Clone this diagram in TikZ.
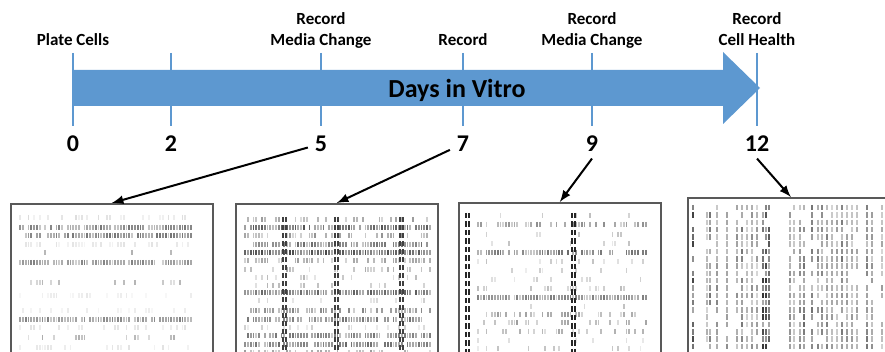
\documentclass[tikz,border=0pt]{standalone}
\usepackage{fontspec}
\setmainfont{Carlito}
\definecolor{dayblue}{RGB}{93,152,208}
% one row of a raster: y, first x, number of slots, density, darkness
\newcommand{\spikerow}[5]{%
  \foreach \i in {0,...,#3}{%
    \pgfmathsetmacro{\spkx}{#2+2.8*\i}%
    \pgfmathsetmacro{\spkp}{rnd}%
    \ifdim\spkp pt<#4pt
      \pgfmathsetmacro{\spkg}{int(#5*(0.35+0.65*rnd))}%
      \draw[black!\spkg,line width=0.9pt] (\spkx,#1) -- ++(0,5.5);
    \fi}}
\begin{document}
\begin{tikzpicture}[>=latex,x=0.5pt,y=-0.5pt,
  lbl/.style={font=\bfseries\fontsize{8.5}{10.4}\selectfont,align=center,anchor=south,inner sep=0pt,text depth=0pt},
  num/.style={font=\bfseries\fontsize{12}{14}\selectfont,anchor=base},
  daytick/.style={dayblue,line width=1.3pt},
  panel/.style={draw=black!65,line width=0.8pt,anchor=north west,minimum width=101pt,minimum height=80pt,inner sep=0pt},
  pointer/.style={->,line width=1pt}]
\useasboundingbox (0,0) rectangle (885,352);
\clip (0,0) rectangle (885,352);
\pgfmathsetseed{12}
% time line
\fill[dayblue] (73,70) -- (723,70) -- (723,52) -- (760,88) -- (723,124) -- (723,106) -- (73,106) -- cycle;
\foreach \d/\x in {0/73,2/171,5/321,7/463,9/592,12/757}{
  \draw[daytick] (\x,53) -- (\x,126);
  \node[num] (n\d) at (\x,151.5) {\d};
}
\fill[dayblue] (380,72) rectangle (535,104);
\node[font=\bfseries\fontsize{13}{15}\selectfont,anchor=base] (div) at (457,98) {Days in Vitro};
\node[lbl] (l0) at (73,46) {Plate Cells};
\node[lbl] (l5) at (321,46) {Record\\Media Change};
\node[lbl] (l7) at (463,46) {Record};
\node[lbl] (l9) at (592,46) {Record\\Media Change};
\node[lbl] (l12) at (757,46) {Record\\Cell Health};
% rasters
\foreach \y/\dens/\dark in {215/0.5/15,225/0.9/55,233/0.8/55,242/0.4/12,250/0.05/40,260/0.9/50,280/0.2/30,
  293/0.3/10,308/0.3/10,317/0.9/50,325/0.3/12,335/0.2/35,345/0.3/12}
  {\spikerow{\y}{20}{61}{\dens}{\dark}}
\foreach \y/\dens/\dark in {217/0.3/40,225/0.95/70,233/0.5/45,242/0.85/60,250/1/75,258/0.5/40,267/0.3/35,
  275/0.15/30,283/0.15/30,290/0.95/65,298/0.2/20,308/0.7/50,317/0.8/55,325/0.2/20,333/0.8/55,342/0.9/60,350/0.5/40}
  {\spikerow{\y}{245}{66}{\dens}{\dark}}
\foreach \c in {283,286,335,338,400,403}
  \foreach \y in {217,225,...,350}
    \draw[black!75,line width=0.9pt] (\c,\y) -- ++(0,5.5);
\foreach \y/\dens/\dark in {213/0.15/35,222/0.6/45,232/0.15/25,241/0.15/25,250/0.8/60,259/0.3/25,268/0.1/20,
  277/0.1/20,286/0.3/30,295/0.9/55,304/0.15/25,312/0.5/40,320/0.4/40,329/0.3/35,338/0.1/20,346/0.15/25}
  {\spikerow{\y}{478}{60}{\dens}{\dark}}
\foreach \c in {466,469,572,575}
  \foreach \y in {213,221.5,...,350}
    \draw[black!85,line width=0.9pt] (\c,\y) -- ++(0,5.5);
\foreach \c/\k in {693/75,707/40,710/60,717/50,727/55,737/45,742/55,747/35,752/45,757/40,763/80,766/85,769/70,
  790/45,794/40,800/50,804/60,812/60,818/50,822/50,827/55,832/40,837/45,842/55,847/45,852/45,857/40,867/55,872/45,882/40}
  \foreach \y in {205,212.3,...,350}{
    \pgfmathsetmacro{\spkp}{rnd}
    \ifdim\spkp pt<0.85pt
      \pgfmathsetmacro{\spkg}{int(\k*(0.4+0.6*rnd))}
      \draw[black!\spkg,line width=0.9pt] (\c,\y) -- ++(0,5.5);
    \fi}
% panels
\node[panel] (r5) at (10,203) {};
\node[panel] (r7) at (235,203) {};
\node[panel] (r9) at (458,202) {};
\node[panel,minimum width=103pt] (r12) at (687,197) {};
\draw[pointer] (n5) -- (r5.north);
\draw[pointer] (n7) -- (r7.north);
\draw[pointer] (n9.south) -- (r9.north);
\draw[pointer] (n12.south) -- (r12.north);
\end{tikzpicture}
\end{document}
